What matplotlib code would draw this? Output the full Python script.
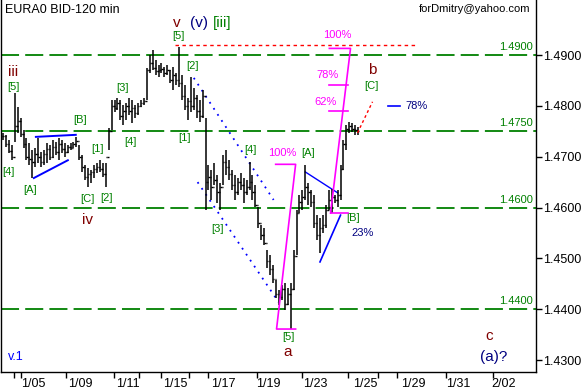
import numpy as np
import matplotlib.pyplot as plt

plt.rcParams['font.family'] = ['Liberation Sans', 'DejaVu Sans']

# 120-min bars
highs = [1.4747, 1.4743, 1.4733, 1.4723, 1.4825, 1.4798, 1.4776, 1.4752, 1.4737, 1.4727,
         1.4713, 1.4717, 1.4737, 1.4709, 1.4713, 1.4727, 1.4723, 1.4733, 1.4729, 1.4737,
         1.4733, 1.4727, 1.4723, 1.4727, 1.4729, 1.4739, 1.4723, 1.4703, 1.4684, 1.4678,
         1.4674, 1.4684, 1.4688, 1.4693, 1.4688, 1.4688, 1.4756, 1.4811, 1.4811, 1.4815,
         1.4811, 1.4802, 1.4806, 1.4815, 1.4811, 1.4802, 1.4806, 1.4811, 1.4815, 1.4874,
         1.4900, 1.4910, 1.4890, 1.4880, 1.4884, 1.4876, 1.4880, 1.4870, 1.4876, 1.4865,
         1.4916, 1.4861, 1.4841, 1.4815, 1.4857, 1.4835, 1.4821, 1.4811, 1.4831, 1.4776,
         1.4684, 1.4674, 1.4688, 1.4664, 1.4648, 1.4703, 1.4713, 1.4693, 1.4674, 1.4664,
         1.4658, 1.4668, 1.4658, 1.4654, 1.4689, 1.4664, 1.4644, 1.4601, 1.4566, 1.4560,
         1.4516, 1.4507, 1.4487, 1.4457, 1.4438, 1.4448, 1.4451, 1.4442, 1.4451, 1.4516,
         1.4595, 1.4625, 1.4634, 1.4684, 1.4648, 1.4634, 1.4625, 1.4585, 1.4579, 1.4585,
         1.4605, 1.4634, 1.4636, 1.4625, 1.4634, 1.4684, 1.4733, 1.4762, 1.4768, 1.4766,
         1.4762, 1.4758]
lows = [1.4733, 1.4719, 1.4707, 1.4693, 1.4729, 1.4747, 1.4739, 1.4717, 1.4693, 1.4684,
        1.4658, 1.4680, 1.4688, 1.4680, 1.4684, 1.4688, 1.4693, 1.4697, 1.4703, 1.4693,
        1.4707, 1.4699, 1.4707, 1.4713, 1.4717, 1.4719, 1.4693, 1.4670, 1.4654, 1.4640,
        1.4648, 1.4658, 1.4668, 1.4670, 1.4660, 1.4640, 1.4713, 1.4752, 1.4788, 1.4792,
        1.4772, 1.4762, 1.4772, 1.4782, 1.4766, 1.4776, 1.4782, 1.4798, 1.4802, 1.4811,
        1.4865, 1.4870, 1.4861, 1.4857, 1.4865, 1.4857, 1.4861, 1.4845, 1.4831, 1.4841,
        1.4837, 1.4811, 1.4792, 1.4772, 1.4788, 1.4792, 1.4776, 1.4768, 1.4776, 1.4595,
        1.4634, 1.4615, 1.4644, 1.4609, 1.4595, 1.4644, 1.4664, 1.4654, 1.4634, 1.4615,
        1.4625, 1.4634, 1.4609, 1.4625, 1.4634, 1.4615, 1.4601, 1.4560, 1.4536, 1.4526,
        1.4481, 1.4467, 1.4451, 1.4422, 1.4408, 1.4418, 1.4398, 1.4408, 1.4361, 1.4438,
        1.4507, 1.4589, 1.4595, 1.4615, 1.4605, 1.4601, 1.4560, 1.4536, 1.4511, 1.4550,
        1.4560, 1.4595, 1.4589, 1.4609, 1.4601, 1.4615, 1.4674, 1.4713, 1.4747, 1.4749,
        1.4743, 1.4743]
closes = [1.4740, 1.4725, 1.4712, 1.4700, 1.4760, 1.4770, 1.4745, 1.4725, 1.4700, 1.4695,
          1.4690, 1.4705, 1.4700, 1.4690, 1.4705, 1.4715, 1.4700, 1.4720, 1.4710, 1.4725,
          1.4715, 1.4710, 1.4720, 1.4718, 1.4725, 1.4730, 1.4700, 1.4680, 1.4660, 1.4665,
          1.4670, 1.4675, 1.4680, 1.4675, 1.4665, 1.4700, 1.4750, 1.4800, 1.4795, 1.4805,
          1.4780, 1.4790, 1.4800, 1.4790, 1.4795, 1.4785, 1.4800, 1.4805, 1.4810, 1.4870,
          1.4885, 1.4875, 1.4868, 1.4870, 1.4872, 1.4865, 1.4870, 1.4850, 1.4860, 1.4850,
          1.4845, 1.4820, 1.4800, 1.4810, 1.4800, 1.4815, 1.4790, 1.4780, 1.4820, 1.4650,
          1.4660, 1.4640, 1.4655, 1.4630, 1.4640, 1.4690, 1.4680, 1.4665, 1.4645, 1.4630,
          1.4650, 1.4645, 1.4630, 1.4640, 1.4650, 1.4630, 1.4605, 1.4570, 1.4545, 1.4530,
          1.4495, 1.4480, 1.4460, 1.4430, 1.4425, 1.4440, 1.4410, 1.4430, 1.4440, 1.4505,
          1.4590, 1.4610, 1.4620, 1.4640, 1.4630, 1.4610, 1.4570, 1.4545, 1.4560, 1.4565,
          1.4595, 1.4615, 1.4620, 1.4615, 1.4625, 1.4675, 1.4725, 1.4755, 1.4760, 1.4755,
          1.4752, 1.4750]

date_labels = ['1/05', '1/09', '1/11', '1/15', '1/17', '1/19', '1/23', '1/25', '1/29', '1/31', '2/02']
date_pos = [10.2, 26.5, 42.5, 58.8, 75.2, 90.5, 106.5, 123.5, 139.8, 155.1, 170.4]
day_marks = [3.7, 6.1, 21.4, 37.8, 46.3, 53.7, 63.3, 69.7, 86.7, 102.0, 117.7, 127.6, 134.4, 151.0, 167.0]

price_ticks = [1.43, 1.44, 1.45, 1.46, 1.47, 1.48, 1.49]
levels = [1.4900, 1.4750, 1.4600, 1.4400]

a_low = 1.4361   # low of wave a
a_top = 1.4685   # 100% of wave a
b_low = 1.4589   # low of [B]
fib_ratios = [0.62, 0.78, 1.00]
top_mark = 1.4920

GREEN = '#008000'
MAROON = '#800000'
NAVY = '#000080'
BLUE = '#0000ff'
MAG = '#ff00ff'

fig = plt.figure(figsize=(5.81, 3.89), dpi=100)
ax = fig.add_axes([1 / 581, 17 / 389, 535 / 581, 372 / 389])

# horizontal levels
for lv in levels:
    ax.axhline(lv, color=GREEN, lw=1.3, dashes=(10, 3.4), zorder=1)
    ax.annotate(f'{lv:.4f}', xy=(1, lv), xycoords=('axes fraction', 'data'),
                xytext=(-2, 2), textcoords='offset points', ha='right', va='bottom',
                color=GREEN, fontsize=8)

# OHLC bars
x = np.arange(len(highs))
opens = [closes[0]] + closes[:-1]
ax.vlines(x, lows, highs, color='k', lw=1.1, zorder=3)
ax.hlines(opens, x - 0.45, x, color='k', lw=1, zorder=3)
ax.hlines(closes, x, x + 0.45, color='k', lw=1, zorder=3)

# trend lines
ax.plot([11.2, 24.8], [1.4739, 1.4743], color=BLUE, lw=1.4, zorder=2)
ax.plot([10.5, 22.1], [1.4658, 1.4693], color=BLUE, lw=1.4, zorder=2)
ax.plot([65, 92.2], [1.4855, 1.4615], color=BLUE, lw=1.3, ls=(0, (1, 3)), zorder=2)
ax.plot([66.3, 93.9], [1.4650, 1.4414], color=BLUE, lw=1.3, ls=(0, (1, 3)), zorder=2)
ax.plot([103, 114], [1.4670, 1.4629], color=BLUE, lw=1, zorder=2)
ax.plot([108, 115], [1.4493, 1.4585], color=BLUE, lw=1.2, zorder=2)
ax.plot([58.5, 141.2], [top_mark, top_mark], color='red', lw=1, ls=(0, (2.5, 2.5)), zorder=2)
ax.plot([120.8, 125.9], [1.4747, 1.4808], color='red', lw=1, ls=(0, (2, 2)), zorder=4)
ax.plot([131.3, 135.4], [1.4800, 1.4800], color=BLUE, lw=1.2)

# fib bracket of wave a
ax.plot([92.9, 99.7, 93.2, 99.7], [a_top, a_top, a_low, a_low], color=MAG, lw=1.2, zorder=4)
# fib projection from [B]
span = a_top - a_low
fib = [b_low + r * span for r in fib_ratios]
ax.plot([111.6, 117.7], [b_low, b_low], color=MAG, lw=1.2, zorder=4)
ax.plot([111.6, 118.4, 111.2], [b_low, fib[2], fib[2]], color=MAG, lw=1.2, zorder=4)
for lv in fib[:2]:
    ax.plot([111.2, 117.7], [lv, lv], color=MAG, lw=1.2, zorder=4)

ax.text(95, 1.4707, '100%', color=MAG, fontsize=8, ha='center', va='center')
ax.text(114, 1.4939, '100%', color=MAG, fontsize=8, ha='center', va='center')
ax.text(110.5, 1.4861, '78%', color=MAG, fontsize=8, ha='center', va='center')
ax.text(109.9, 1.4808, '62%', color=MAG, fontsize=8, ha='center', va='center')

# wave labels
green_labels = [('[5]', 3.4, 1.4837), ('[4]', 2.0, 1.4670), ('[A]', 9.2, 1.4634),
                ('[B]', 26.2, 1.4772), ('[C]', 28.9, 1.4617), ('[1]', 32.3, 1.4715),
                ('[2]', 35.4, 1.4619), ('[3]', 40.8, 1.4835), ('[4]', 43.5, 1.4729),
                ('[5]', 59.9, 1.4937), ('[2]', 64.6, 1.4878), ('[1]', 61.9, 1.4737),
                ('[3]', 73.1, 1.4558), ('[4]', 84.4, 1.4713), ('[A]', 104.1, 1.4707),
                ('[5]', 97.3, 1.4345), ('[B]', 119.4, 1.4579), ('[C]', 125.5, 1.4839)]
for t, bx, py in green_labels:
    ax.text(bx, py, t, color=GREEN, fontsize=8, ha='center', va='center')

for t, bx, py in [('iii', 3.4, 1.4867), ('iv', 28.9, 1.4575), ('a', 96.9, 1.4316),
                  ('b', 125.9, 1.4870), ('c', 165.6, 1.4347), ('v', 59.2, 1.4963)]:
    ax.text(bx, py, t, color=MAROON, fontsize=11, ha='center', va='center')
ax.text(66.7, 1.4963, '(v)', color=NAVY, fontsize=11, ha='center', va='center')
ax.text(74.8, 1.4963, '[iii]', color=GREEN, fontsize=11, ha='center', va='center')
ax.text(167.3, 1.4306, '(a)?', color=NAVY, fontsize=11, ha='center', va='center')
ax.text(122.4, 1.4550, '23%', color=NAVY, fontsize=8, ha='center', va='center')
ax.text(137.0, 1.4800, '78%', color=NAVY, fontsize=8, ha='left', va='center')
ax.text(1.7, 1.4306, 'v.1', color=BLUE, fontsize=9, ha='left', va='center')

ax.text(0.008, 0.99, 'EURA0 BID-120 min', transform=ax.transAxes, fontsize=9,
        ha='left', va='top')
ax.text(0.99, 0.99, 'forDmitry@yahoo.com', transform=ax.transAxes, fontsize=8,
        ha='right', va='top')

# axes
ax.set_xlim(-0.68, 181.6)
ax.set_ylim(1.42765, 1.50082)
ax.yaxis.tick_right()
ax.set_yticks(price_ticks)
ax.set_yticklabels([f'{p:.4f}' for p in price_ticks])
ax.tick_params(axis='y', direction='out', length=4, width=1, pad=1, labelsize=9)
ax.set_xticks(date_pos)
ax.set_xticklabels(date_labels)
ax.set_xticks(day_marks, minor=True)
ax.tick_params(axis='x', which='major', length=0, pad=4, labelsize=9)
ax.tick_params(axis='x', which='minor', direction='out', length=4, width=1)
ax.spines['top'].set_visible(False)
for s in ['left', 'right', 'bottom']:
    ax.spines[s].set_linewidth(1)

fig.savefig('out.png', dpi=100)
